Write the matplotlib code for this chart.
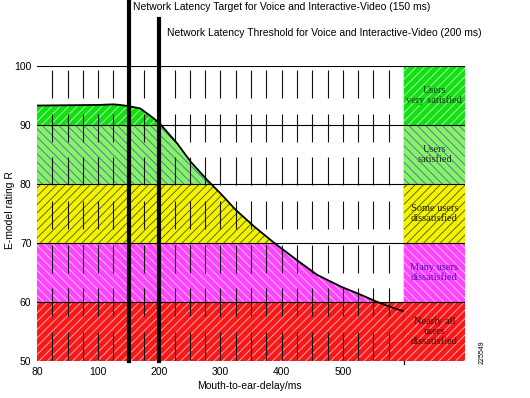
import numpy as np
import matplotlib
matplotlib.use("Agg")
import matplotlib.pyplot as plt

# curve (delay in ms, E-model rating R)
delay_ms = [80, 100, 125, 136, 150, 169, 191, 202, 229, 251, 278, 300, 325,
            355, 388, 425, 458, 497, 530, 552, 574, 600]
r_value = [93.3, 93.4, 93.5, 93.4, 93.2, 92.8, 91.1, 90.1, 86.9, 83.8, 80.7,
           78.4, 75.6, 72.8, 70.0, 67.1, 64.6, 62.6, 61.2, 60.2, 59.3, 58.4]

band_low = [90, 80, 70, 60, 50]
band_high = [100, 90, 80, 70, 60]
band_labels = ["Users\nvery satisfied", "Users\nsatisfied",
               "Some users\ndissatisfied", "Many users\ndissatisfied",
               "Nearly all\nusers\ndissatisfied"]
x_ticks = [80, 100, 200, 300, 400, 500]
y_ticks = [50, 60, 70, 80, 90, 100]
target_ms = 150
threshold_ms = 200
target_text = "Network Latency Target for Voice and Interactive-Video (150 ms)"
threshold_text = "Network Latency Threshold for Voice and Interactive-Video (200 ms)"

# styles
band_face = ['#12e012', '#8cf064', '#f4f400', '#ff44ff', '#f81818']
band_hatch = ['////', '\\\\\\\\', '////', '\\\\\\\\', '////']
band_hatch_color = ['#c0ffc0', '#2a78b0', '#505000', '#ffd0ff', '#ffc0c0']
label_color = ['#203020', '#203020', '#202000', '#5010c0', '#400000']

plt.rcParams['font.family'] = ['Liberation Sans', 'DejaVu Sans']
plt.rcParams['hatch.linewidth'] = 0.6


# axis is piecewise linear: 80-100 takes the same width as 100 ms steps
def fwd(x):
    x = np.asarray(x, dtype=float)
    return np.where(x < 100, (x - 80) / 20.0, 1 + (x - 100) / 100.0)


def inv(u):
    u = np.asarray(u, dtype=float)
    return np.where(u < 1, 80 + 20.0 * u, 100 + 100.0 * (u - 1))


W, H = 530, 398
fig = plt.figure(figsize=(W / 100, H / 100), dpi=100)
ax = fig.add_axes([37 / W, 37 / H, 367 / W, 295 / H])
ax2 = fig.add_axes([404 / W, 37 / H, 61 / W, 295 / H])

ax.set_xscale('function', functions=(fwd, inv))
ax.set_xlim(80, 600)
ax.set_ylim(50, 100)

# region under the curve, used to clip the upper bands
under = ax.fill_between(delay_ms, 50, r_value, facecolor='none', edgecolor='none')
clip_path = under.get_paths()[0]

for i in range(len(band_low)):
    span = ax.axhspan(band_low[i], band_high[i], facecolor=band_face[i],
                      edgecolor=band_hatch_color[i], hatch=band_hatch[i],
                      linewidth=0, zorder=1)
    if i < 4:
        span.set_clip_path(clip_path, ax.transData)

# short vertical dashes
dash_x = [85, 90, 95, 100] + list(range(125, 600, 25))
dash_top = np.arange(99.3, 50, -7.4)
dash_bot = np.maximum(dash_top - 4.7, 50)
for x in dash_x:
    ax.vlines([x] * len(dash_top), dash_bot, dash_top, color='#111111',
              lw=0.8, zorder=2)

for y in band_high:
    ax.axhline(y, color='k', lw=0.8, zorder=3)
    ax2.axhline(y, color='k', lw=0.8, zorder=3)
ax.axvline(600, ymin=-0.01, ymax=1, color='k', lw=0.9, clip_on=False, zorder=3)

ax.plot(delay_ms, r_value, color='k', lw=1.3, zorder=4)

ax.axvline(target_ms, ymin=0, ymax=1 + 66 / 295, color='k', lw=3,
           clip_on=False, zorder=5)
ax.axvline(threshold_ms, ymin=0, ymax=1 + 47 / 295, color='k', lw=3,
           clip_on=False, zorder=5)

for s in ax.spines.values():
    s.set_visible(False)
ax.set_xticks(x_ticks)
ax.set_xticklabels([str(t) for t in x_ticks])
ax.set_yticks(y_ticks)
ax.set_yticklabels([str(t) for t in y_ticks])
ax.minorticks_off()
ax.tick_params(axis='both', length=0, labelsize=7.5)
ax.tick_params(axis='x', pad=4)
ax.tick_params(axis='y', pad=4)

# right-hand legend panel
ax2.set_xlim(0, 1)
ax2.set_ylim(50, 100)
ax2.axis('off')
for i in range(len(band_low)):
    ax2.axhspan(band_low[i], band_high[i], facecolor=band_face[i],
                edgecolor=band_hatch_color[i], hatch=band_hatch[i],
                linewidth=0, zorder=1)
    ax2.text(0.5, (band_low[i] + band_high[i]) / 2, band_labels[i],
             ha='center', va='center', fontsize=7.5, linespacing=1.15,
             color=label_color[i], family=['Liberation Serif', 'DejaVu Serif'],
             zorder=4)

fig.text(133 / W, 1 - 7 / H, target_text, fontsize=7.5, ha='left', va='center')
fig.text(167 / W, 1 - 33 / H, threshold_text, fontsize=7.5, ha='left', va='center')
fig.text(249 / W, 1 - 386 / H, "Mouth-to-ear-delay/ms", fontsize=7.5,
         ha='center', va='center')
fig.text(10 / W, 1 - 210 / H, "E-model rating R", fontsize=7.5, rotation=90,
         ha='center', va='center')
fig.text(482 / W, 1 - 352 / H, "225549", fontsize=5, rotation=90,
         ha='center', va='center')

fig.savefig("out.png", dpi=100)
